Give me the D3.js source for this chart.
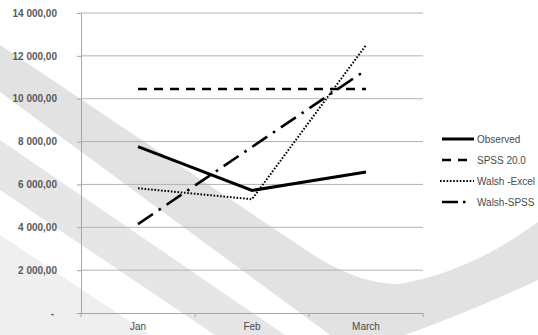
<!DOCTYPE html>
<html>
<head>
<meta charset="utf-8">
<script src="https://cdn.jsdelivr.net/npm/d3@7/dist/d3.min.js"></script>
<style>
  html, body { margin: 0; padding: 0; background: #fff; }
  svg { display: block; }
</style>
</head>
<body>
<svg id="chart" width="538" height="335"></svg>
<script>
// Monthly values per method
const months = ["Jan", "Feb", "March"];
const observed = [7760, 5720, 6580];
const spss20 = [10450, 10450, 10450];
const walshExcel = [5820, 5310, 12500];
const walshSpss = [4150, 7750, 11340];
const seriesNames = ["Observed", "SPSS 20.0", "Walsh -Excel", "Walsh-SPSS"];
const yTicks = [0, 2000, 4000, 6000, 8000, 10000, 12000, 14000];

const seriesValues = [observed, spss20, walshExcel, walshSpss];
const seriesStyle = [
  { width: 3, dash: null },
  { width: 2.6, dash: "9,7" },
  { width: 2, dash: "1.6,1.7" },
  { width: 2.6, dash: "18,7,2.5,7" }
];

const svg = d3.select("#chart");
const W = 538, H = 335;
const plot = { left: 81, right: 423, top: 13, bottom: 313 };

// faint background swoosh
const bg = svg.append("g");
bg.append("path")
  .attr("d", "M0,235 L150,335 L0,335 Z")
  .attr("fill", "#efefef");
bg.append("path")
  .attr("d", "M0,140 L285,335 L215,335 L0,190 Z")
  .attr("fill", "#e6e6e6");
bg.append("path")
  .attr("d", "M0,45 L300,246 Q355,285 400,284 Q470,272 538,222 L538,280 Q470,312 405,335 L330,335 L0,92 Z")
  .attr("fill", "#e2e2e2");

const x = d3.scaleBand().domain(months).range([plot.left, plot.right]);
const y = d3.scaleLinear().domain([0, 14000]).range([plot.bottom, plot.top]);
const fmt = v => v === 0 ? "-" : d3.format(",.2f")(v).replace(/,/g, " ").replace(".", ",");

// horizontal gridlines
svg.append("g")
  .selectAll("line")
  .data(yTicks.filter(t => t > 0))
  .join("line")
  .attr("x1", plot.left).attr("x2", plot.right)
  .attr("y1", d => y(d)).attr("y2", d => y(d))
  .attr("stroke", "#b3b3b3").attr("stroke-width", 1);

// y axis
const yAxis = svg.append("g")
  .attr("transform", `translate(${plot.left},0)`)
  .call(d3.axisLeft(y).tickValues(yTicks).tickSize(4).tickPadding(20).tickFormat(fmt));
yAxis.select(".domain").attr("stroke", "#a6a6a6");
yAxis.selectAll(".tick line").attr("stroke", "#a6a6a6");
yAxis.selectAll(".tick text")
  .attr("fill", "#5a5a5a")
  .attr("font-family", "Liberation Sans, Arial, sans-serif")
  .attr("font-size", 10)
  .attr("font-weight", "bold")
  .attr("dx", d => d === 0 ? -3 : 0);

// x axis with boundary ticks
const xAxis = svg.append("g")
  .attr("transform", `translate(0,${plot.bottom})`)
  .call(d3.axisBottom(x).tickSize(0).tickPadding(10));
xAxis.select(".domain").attr("stroke", "#a6a6a6");
xAxis.selectAll(".tick text")
  .attr("fill", "#4a4a4a")
  .attr("font-family", "Liberation Sans, Arial, sans-serif")
  .attr("font-size", 10);
xAxis.append("g")
  .selectAll("line")
  .data(months.map(m => x(m)).concat([plot.right]))
  .join("line")
  .attr("x1", d => d).attr("x2", d => d)
  .attr("y1", 0).attr("y2", 4)
  .attr("stroke", "#a6a6a6");

// series lines
const line = d3.line()
  .x((d, i) => x(months[i]) + x.bandwidth() / 2)
  .y(d => y(d));

svg.append("g")
  .selectAll("path")
  .data(seriesValues)
  .join("path")
  .attr("d", d => line(d))
  .attr("fill", "none")
  .attr("stroke", "#000")
  .attr("stroke-width", (d, i) => seriesStyle[i].width)
  .attr("stroke-dasharray", (d, i) => seriesStyle[i].dash);

// legend
const legend = svg.append("g").attr("transform", "translate(442,139)");
const items = legend.selectAll("g")
  .data(seriesNames)
  .join("g")
  .attr("transform", (d, i) => `translate(0,${i * 21})`);
items.append("line")
  .attr("x1", (d, i) => i === 2 ? -2 : 0)
  .attr("x2", (d, i) => i === 3 ? 24 : 32)
  .attr("y1", 0).attr("y2", 0)
  .attr("stroke", "#000")
  .attr("stroke-width", (d, i) => seriesStyle[i].width)
  .attr("stroke-dasharray", (d, i) => i === 3 ? "16,5,2.5,20" : seriesStyle[i].dash);
items.append("text")
  .attr("x", 35)
  .attr("y", 0)
  .attr("dy", "0.35em")
  .attr("fill", "#4a4a4a")
  .attr("font-family", "Liberation Sans, Arial, sans-serif")
  .attr("font-size", 10)
  .text(d => d);
</script>
</body>
</html>
